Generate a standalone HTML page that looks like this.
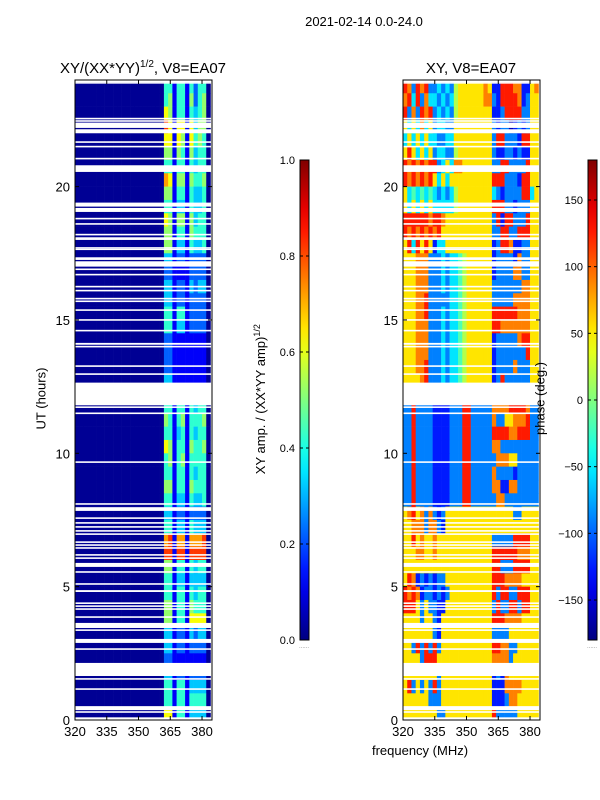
<!DOCTYPE html>
<html><head><meta charset="utf-8"><style>
body{margin:0;background:#fff;}
svg{display:block;font-family:"Liberation Sans",sans-serif;}
</style></head><body>
<svg id="c" width="600" height="800" viewBox="0 0 600 800"></svg>
<script>
const freqStart=320, freqStep=2, hourStep=0.5;
const xTicks=[320,335,350,365,380];
const yTicks=[0,5,10,15,20];
const ampTicks=[0.0,0.2,0.4,0.6,0.8,1.0];
const phaseTicks=[-150,-100,-50,0,50,100,150];
// amplitude grid, rows from 24h downward, 2 MHz cols; digit d -> (d+0.2)/10
const ampRows=[
"000000000000000000000"+"44144142440",
"000000000000000000000"+"45144152450",
"000000000000000000000"+"65144143450",
"000000000000000000000"+"86166163550",
"000000000000000000000"+"66165164540",
"000000000000000000000"+"55154153440",
"000000000000000000000"+"44144143440",
"000000000000000000000"+"76155154450",
"000000000000000000000"+"55144143340",
"000000000000000000000"+"44133143340",
"000000000000000000000"+"65155153440",
"000000000000000000000"+"55144154440",
"000000000000000000000"+"55133143340",
"000000000000000000000"+"33122122220",
"000000000000000000000"+"22111122220",
"000000000000000000000"+"33122132330",
"000000000000000000000"+"33122122220",
"000000000000000000000"+"44144122220",
"000000000000000000000"+"44133122220",
"000000000000000000000"+"22111111110",
"000000000000000000000"+"22111111110",
"000000000000000000000"+"22111111110",
"000000000000000000000"+"33111111110",
"000000000000000000000"+"33111111110",
"000000000000000000000"+"44144143440",
"000000000000000000000"+"54145144450",
"000000000000000000000"+"44134143440",
"000000000000000000000"+"65144154450",
"000000000000000000000"+"45145144440",
"000000000000000000000"+"44144143440",
"000000000000000000000"+"55144154440",
"000000000000000000000"+"44133143340",
"000000000000000000000"+"33122122220",
"000000000000000000000"+"44133143330",
"000000000000000000000"+"78177177780",
"000000000000000000000"+"88188188880",
"000000000000000000000"+"55144143440",
"000000000000000000000"+"44133133330",
"000000000000000000000"+"44144143440",
"000000000000000000000"+"55144154440",
"000000000000000000000"+"55144166660",
"000000000000000000000"+"33122132330",
"000000000000000000000"+"33122122220",
"000000000000000000000"+"22111111110",
"000000000000000000000"+"33122122220",
"000000000000000000000"+"44144133330",
"000000000000000000000"+"44144144440",
"000000000000000000000"+"66144133330"];
// phase grid; digit d -> -180+(d+0.5)*36
const phaseRows=[
"8728782"+"23232"+"566666676"+"118887711"+"67",
"7838273"+"32323"+"566666677"+"218888712"+"66",
"8272878"+"23232"+"566666666"+"112888822"+"66",
"6363736"+"23322"+"666666666"+"212201212"+"66",
"3636363"+"32233"+"666666666"+"288222188"+"66",
"6863636"+"23322"+"566666666"+"211221211"+"66",
"8787878"+"82363"+"776666666"+"228822228"+"66",
"8787878"+"63636"+"666666666"+"888222188"+"66",
"6343434"+"32323"+"566666666"+"321222288"+"36",
"6363636"+"33333"+"566666666"+"888221222"+"66",
"8888887"+"88766"+"666666666"+"281882228"+"66",
"8787878"+"78666"+"666666666"+"228822888"+"66",
"6838686"+"13366"+"666666666"+"128871122"+"66",
"6667772"+"22323"+"345666666"+"122221722"+"66",
"6667772"+"22323"+"345666666"+"122227722"+"66",
"6667772"+"22323"+"345666666"+"222222277"+"66",
"6667782"+"22223"+"345666666"+"222227777"+"66",
"6667782"+"22323"+"345666666"+"888888777"+"66",
"6667772"+"22323"+"345666666"+"887777777"+"66",
"6667772"+"22323"+"345666666"+"122222788"+"66",
"6667772"+"22323"+"345666666"+"122222228"+"66",
"6667782"+"22323"+"345666666"+"122227222"+"66",
"6666782"+"22323"+"345666666"+"128222222"+"66",
"6666782"+"22323"+"345666666"+"122222222"+"66",
"2282222"+"11112"+"228822222"+"777788887"+"22",
"2282222"+"11112"+"228822222"+"722667778"+"22",
"2282222"+"11112"+"228822222"+"888877888"+"22",
"2282222"+"11112"+"228822222"+"772222222"+"22",
"2282222"+"11112"+"228822222"+"277766222"+"22",
"2282222"+"11112"+"228822222"+"722221222"+"22",
"2282222"+"11112"+"228822222"+"771177222"+"22",
"2282222"+"11112"+"228822222"+"277222222"+"22",
"6786727"+"21266"+"666666666"+"666662266"+"66",
"6677727"+"72166"+"666666666"+"666666666"+"66",
"6686766"+"76666"+"666666666"+"222228888"+"66",
"6667766"+"76666"+"666666666"+"888888777"+"66",
"6666666"+"66666"+"666666666"+"882228888"+"66",
"6871212"+"12266"+"666666666"+"888777766"+"66",
"8787122"+"12126"+"666666666"+"828822888"+"66",
"8886262"+"21166"+"666666666"+"282288288"+"66",
"6666266"+"21666"+"666666666"+"888777766"+"66",
"6666666"+"21666"+"666666666"+"222266666"+"66",
"6628282"+"82666"+"666666666"+"887722666"+"66",
"6666288"+"86666"+"666666666"+"777726666"+"66",
"6666666"+"62666"+"666666666"+"121766666"+"66",
"6826262"+"82666"+"666666666"+"111777766"+"66",
"6666662"+"22666"+"666666666"+"111277666"+"66",
"6666666"+"62266"+"666666666"+"822222666"+"66"];
// flagged (blank) time intervals [start,end] hours
const gaps=[[23.86,23.92],[23.92,24],[22.52,22.58],[22.43,22.49],[22.2,22.4],[22.0,22.15],[21.64,21.7],[21.47,21.53],[21.02,21.08],[20.55,20.8],[19.25,19.4],[19.05,19.2],[18.77,18.83],[18.57,18.63],[18.17,18.23],[18.0,18.1],[17.67,17.73],[17.62,17.67],[17.25,17.35],[17.0,17.2],[16.87,16.93],[16.67,16.73],[16.22,16.28],[16.07,16.13],[15.77,15.83],[15.67,15.73],[15.34,15.4],[14.97,15.03],[14.57,14.63],[14.07,14.14],[13.97,14.03],[13.24,13.3],[12.94,13.0],[11.8,12.65],[11.7,11.76],[11.47,11.53],[9.64,9.7],[8.07,8.13],[7.84,7.98],[7.54,7.6],[7.36,7.42],[7.21,7.27],[7.06,7.12],[6.94,7.0],[6.64,6.7],[6.53,6.59],[6.42,6.48],[6.16,6.22],[6.04,6.1],[5.74,5.89],[5.52,5.58],[5.07,5.13],[4.8,4.87],[4.35,4.41],[4.24,4.3],[4.13,4.19],[3.83,3.89],[3.45,3.64],[3.34,3.4],[2.89,3.04],[2.63,2.69],[1.65,2.14],[1.51,1.57],[1.13,1.19],[0.37,0.52],[0.27,0.33],[0,0.1]];

const NS='http://www.w3.org/2000/svg';
const svg=document.getElementById('c');
function el(t,a,p){const e=document.createElementNS(NS,t);for(const k in a)e.setAttribute(k,a[k]);(p||svg).appendChild(e);return e;}
function jet(v){v=Math.max(0,Math.min(1,v));
 const r=Math.max(0,Math.min(1,1.5-Math.abs(4*v-3))),g=Math.max(0,Math.min(1,1.5-Math.abs(4*v-2))),b=Math.max(0,Math.min(1,1.5-Math.abs(4*v-1)));
 return `rgb(${Math.round(r*255)},${Math.round(g*255)},${Math.round(b*255)})`;}
const PX=2.117, Y0=720, PY=26.67;
function yS(t){return Y0-t*PY;}

const defs=el('defs',{});
const gr=el('linearGradient',{id:'jet',x1:0,y1:1,x2:0,y2:0},defs);
for(let i=0;i<=20;i++){el('stop',{offset:i/20,'stop-color':jet(i/20)},gr);}

function panel(x0,rows,valFn,name,title,tx){
 const g=el('g',{});
 
 
 const xS=f=>x0+(f-320)*PX;
 rows.forEach((row,i)=>{
  const t1=24-hourStep*i;
  for(let j=0;j<row.length;j++){
   const f=freqStart+j*freqStep;
   const r=el('rect',{x:xS(f),y:yS(t1),width:freqStep*PX+0.3,height:hourStep*PY+0.3,fill:jet(valFn(+row[j]))},g);
   
   
  }
 });
 gaps.forEach(gp=>{
  const r=el('rect',{x:x0,y:yS(gp[1]),width:137,height:(gp[1]-gp[0])*PY,fill:'#fff'},g);
  
  
 });
 el('rect',{x:x0,y:80,width:137,height:640,fill:'none',stroke:'#000','stroke-width':1},g);
 xTicks.forEach(v=>{const x=xS(v);
  el('line',{x1:x,x2:x,y1:720,y2:716,stroke:'#000'},g);
  el('line',{x1:x,x2:x,y1:80,y2:84,stroke:'#000'},g);
  const tt=el('text',{x:x,y:736,'font-size':13,'text-anchor':'middle'},g);tt.textContent=v;
  });
 yTicks.forEach(v=>{const y=yS(v);
  el('line',{x1:x0,x2:x0+4,y1:y,y2:y,stroke:'#000'},g);
  el('line',{x1:x0+137,x2:x0+133,y1:y,y2:y,stroke:'#000'},g);
  const tt=el('text',{x:x0-5,y:y+5,'font-size':13,'text-anchor':'end'},g);tt.textContent=v;
  });
 const ti=el('text',{x:tx,y:73,'font-size':15,'text-anchor':'middle'},g);ti.innerHTML=title;
 
}
panel(75,ampRows,d=>(d+0.2)/10,'amplitude-heatmap','XY/(XX*YY)<tspan dy="-6" font-size="10">1/2</tspan><tspan dy="6">, V8=EA07</tspan>',143);
panel(403,phaseRows,d=>(d+0.5)/10,'phase-heatmap','XY, V8=EA07',471);

function cbar(x,ticks,lo,hi,fmt,name){
 const g=el('g',{});
 
 
 el('rect',{x:x,y:160,width:9,height:480,fill:'url(#jet)',stroke:'#000','stroke-width':1},g);
 ticks.forEach(v=>{const y=640-(v-lo)/(hi-lo)*480;
  el('line',{x1:x,x2:x+3,y1:y,y2:y,stroke:'#000'},g);
  el('line',{x1:x+9,x2:x+6,y1:y,y2:y,stroke:'#000'},g);
  const t=el('text',{x:x-5,y:y+4,'font-size':11,'text-anchor':'end'},g);t.textContent=fmt(v);
  });
 const d=el('text',{x:x+4,y:648,'font-size':6,'text-anchor':'middle',fill:'#888'},g);d.textContent='......';
}
cbar(300,ampTicks,0,1,v=>v.toFixed(1),'amplitude-colorbar');
cbar(588,phaseTicks,-180,180,v=>v<0?'\u2212'+(-v):''+v,'phase-colorbar');
</script>
<div style="position:absolute;left:0;top:0;width:600px;height:800px;pointer-events:none;font-family:'Liberation Sans',sans-serif;">
 <div style="position:absolute;left:264px;top:14px;width:200px;text-align:center;font-size:13px;">2021-02-14 0.0-24.0</div>
 <div style="position:absolute;left:320px;top:743px;width:200px;text-align:center;font-size:13px;">frequency (MHz)</div>
 <div style="position:absolute;left:-19px;top:391px;width:120px;text-align:center;font-size:13px;transform:rotate(-90deg);">UT (hours)</div>
 <div style="position:absolute;left:160px;top:391px;width:200px;text-align:center;font-size:13px;transform:rotate(-90deg);">XY amp. / (XX*YY amp)<sup style="font-size:9px">1/2</sup></div>
 <div style="position:absolute;left:480px;top:391px;width:120px;text-align:center;font-size:13px;transform:rotate(-90deg);">phase (deg.)</div>
</div>
</body></html>
